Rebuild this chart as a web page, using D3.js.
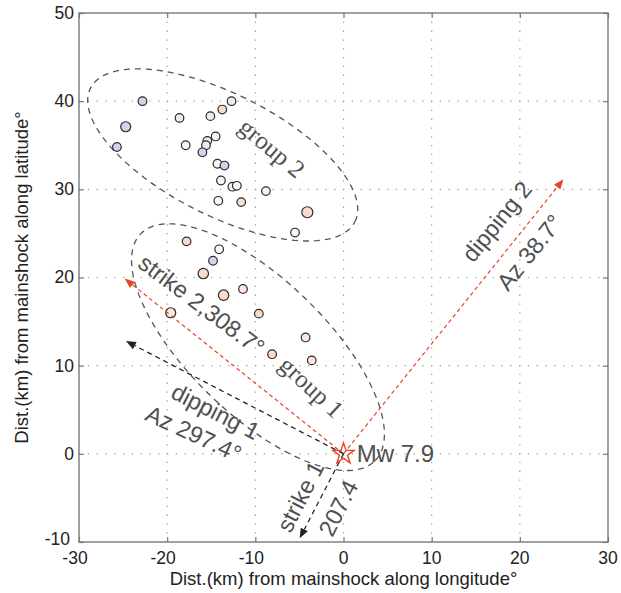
<!DOCTYPE html>
<html>
<head>
<meta charset="utf-8">
<script src="https://cdn.jsdelivr.net/npm/d3@7"></script>
<style>
  html, body { margin: 0; padding: 0; background: #fff; }
  svg { display: block; }
</style>
</head>
<body>
<svg id="chart" width="621" height="593"></svg>
<script>
// Aftershock epicentres relative to the mainshock (km east, km north)
const eqLon = [-22.8, -24.7, -25.7, -18.6, -17.9, -15.1, -13.75, -12.7, -14.5, -15.45, -15.6, -16.0,
               -14.3, -13.5, -13.9, -12.6, -12.1, -14.2, -11.6, -8.8, -4.1, -5.5,
               -17.8, -14.1, -14.8, -15.9, -11.4, -13.6, -19.6, -9.6, -4.3, -8.1, -3.6];
const eqLat = [40.0, 37.1, 34.8, 38.1, 35.0, 38.3, 39.05, 40.0, 36.0, 35.5, 35.0, 34.2,
               32.9, 32.7, 31.0, 30.3, 30.4, 28.7, 28.55, 29.8, 27.4, 25.1,
               24.1, 23.2, 21.9, 20.45, 18.7, 18.0, 16.0, 15.9, 13.2, 11.3, 10.6];
// fill class of each event: b lavender, l pale, w white, p peach, q pale peach
const eqShade = ["b","b","b","l","w","l","p","l","w","l","l","b",
                 "w","b","w","w","w","w","p","w","p","w",
                 "p","w","b","p","q","p","q","p","q","p","q"];
const eqSize = [4.3, 5.0, 4.3, 4.3, 4.3, 4.3, 4.3, 4.3, 4.3, 4.3, 4.3, 4.3,
                4.3, 4.3, 4.3, 4.3, 4.3, 4.3, 4.3, 4.3, 5.5, 4.3,
                4.3, 4.3, 4.3, 5.2, 4.3, 5.2, 5.0, 4.3, 4.3, 4.3, 4.3];

// Fault-plane directions from the epicentre: azimuth (deg from north) and drawn length (km)
const dirNames  = ["strike 2", "dipping 2", "dipping 1", "strike 1"];
const dirAz     = [308.7, 38.7, 297.4, 207.4];
const dirLength = [31.8, 39.9, 27.8, 10.8];
const dirColor  = ["red", "red", "black", "black"];

// Dashed ellipses around the two aftershock groups (centre, semi-axes in km, rotation in deg)
const groupNames = ["group 2", "group 1"];
const groupCx    = [-13.7, -9.7];
const groupCy    = [33.9, 12.1];
const groupA     = [16.8, 18.5];
const groupB     = [6.9, 7.7];
const groupRot   = [-26.8, -44];

// Annotation texts: position (km), rotation (deg)
const noteText  = ["group 2", "strike 2,308.7°", "group 1", "dipping 1", "Az 297.4°",
                   "dipping 2", "Az 38.7°", "strike 1", "207.4"];
const noteX     = [-8.1, -16.1, -3.6, -14.5, -17.0, 17.4, 21.1, -4.9, -0.6];
const noteY     = [34.7, 16.9, 7.6, 4.8, 2.3, 26.35, 22.85, -4.85, -6.15];
const noteAngle = [40, 37, 43, 27, 25, -51, -51, -63, -63];
const noteSerif = [true, false, true, false, false, false, false, false, false];

const mainshockLabel = "Mw 7.9";
const xTicks = [-30, -20, -10, 0, 10, 20, 30];
const yTicks = [-10, 0, 10, 20, 30, 40, 50];
const xTitle = "Dist.(km) from mainshock along longitude°";
const yTitle = "Dist.(km) from mainshock along latitude°";

const svg = d3.select("#chart");
const L = 79, R = 608, T = 13, B = 542;
const x = d3.scaleLinear().domain([-30, 30]).range([L, R]);
const y = d3.scaleLinear().domain([-10, 50]).range([B, T]);

const sans = "'Liberation Sans', Arial, Helvetica, sans-serif";
const serif = "'Liberation Serif', 'Times New Roman', serif";
const textGray = "#505050";
const redC = "#e8442a";

// dotted grid
const grid = svg.append("g");
grid.selectAll("line.gx").data(xTicks.slice(1, -1)).join("line")
  .attr("x1", d => x(d)).attr("x2", d => x(d)).attr("y1", T).attr("y2", B)
  .attr("stroke", "#9a9a9a").attr("stroke-width", 1.2).attr("stroke-dasharray", "1.3,7.5");
grid.selectAll("line.gy").data(yTicks.slice(1, -1)).join("line")
  .attr("y1", d => y(d)).attr("y2", d => y(d)).attr("x1", L).attr("x2", R)
  .attr("stroke", "#9a9a9a").attr("stroke-width", 1.2).attr("stroke-dasharray", "1.3,7.5");

// axes (ticks point inward, box on all sides)
const axisStyle = g => {
  g.select(".domain").remove();
  g.selectAll(".tick line").attr("stroke", "#777").attr("stroke-width", 1.2);
};
svg.append("g").attr("transform", `translate(0,${B})`)
  .call(d3.axisBottom(x).tickValues(xTicks).tickSizeInner(-5).tickSizeOuter(0).tickFormat(""))
  .call(axisStyle);
svg.append("g").attr("transform", `translate(0,${T})`)
  .call(d3.axisTop(x).tickValues(xTicks).tickSizeInner(-5).tickSizeOuter(0).tickFormat(""))
  .call(axisStyle);
svg.append("g").attr("transform", `translate(${L},0)`)
  .call(d3.axisLeft(y).tickValues(yTicks).tickSizeInner(-5).tickSizeOuter(0).tickFormat(""))
  .call(axisStyle);
svg.append("g").attr("transform", `translate(${R},0)`)
  .call(d3.axisRight(y).tickValues(yTicks).tickSizeInner(-5).tickSizeOuter(0).tickFormat(""))
  .call(axisStyle);
svg.append("rect").attr("x", L).attr("y", T).attr("width", R - L).attr("height", B - T)
  .attr("fill", "none").attr("stroke", "#7a7a7a").attr("stroke-width", 1.4);

// tick labels
svg.append("g").selectAll("text").data(xTicks).join("text")
  .attr("x", d => x(d) + (d < 0 ? -4 : 0)).attr("y", B + 22)
  .attr("text-anchor", "middle").attr("font-family", sans).attr("font-size", 17.5)
  .attr("fill", "#222").text(d => d);
svg.append("g").selectAll("text").data(yTicks).join("text")
  .attr("x", d => L - 5 - (d < 0 ? 4 : 0)).attr("y", d => y(d) - (d === -10 ? 3 : 0)).attr("dy", "0.34em")
  .attr("text-anchor", "end").attr("font-family", sans).attr("font-size", 17.5)
  .attr("fill", "#222").text(d => d);

// axis titles
svg.append("text").attr("x", (L + R) / 2).attr("y", 585)
  .attr("text-anchor", "middle").attr("font-family", sans).attr("font-size", 18.5)
  .attr("fill", "#222").text(xTitle);
svg.append("text").attr("transform", `translate(28,${(T + B) / 2}) rotate(-90)`)
  .attr("text-anchor", "middle").attr("font-family", sans).attr("font-size", 18.5)
  .attr("fill", "#222").text(yTitle);

// group ellipses
const ellipseLine = d3.line().x(p => x(p[0])).y(p => y(p[1])).curve(d3.curveLinearClosed);
groupNames.forEach((name, i) => {
  const phi = groupRot[i] * Math.PI / 180;
  const pts = d3.range(0, 360, 2).map(t => {
    const r = t * Math.PI / 180;
    const u = groupA[i] * Math.cos(r), v = groupB[i] * Math.sin(r);
    return [groupCx[i] + u * Math.cos(phi) - v * Math.sin(phi),
            groupCy[i] + u * Math.sin(phi) + v * Math.cos(phi)];
  });
  svg.append("path").attr("d", ellipseLine(pts))
    .attr("fill", "none").attr("stroke", "#555").attr("stroke-width", 1.3)
    .attr("stroke-dasharray", "6,5");
});

// aftershocks
const shadeFill = { b: "#d2d3ec", l: "#ececf6", w: "#f8f8fb", p: "#fbdccb", q: "#fde8de" };
svg.append("g").selectAll("circle").data(eqLon).join("circle")
  .attr("cx", (d, i) => x(d)).attr("cy", (d, i) => y(eqLat[i]))
  .attr("r", (d, i) => eqSize[i])
  .attr("fill", (d, i) => shadeFill[eqShade[i]])
  .attr("stroke", "#2b2b2b").attr("stroke-width", 1.2);

// fault-plane direction arrows
const arrows = svg.append("g");
dirNames.forEach((name, i) => {
  const az = dirAz[i] * Math.PI / 180;
  const tx = dirLength[i] * Math.sin(az), ty = dirLength[i] * Math.cos(az);
  const x0 = x(0), y0 = y(0), x1 = x(tx), y1 = y(ty);
  const col = dirColor[i] === "red" ? redC : "#222";
  const ang = Math.atan2(y1 - y0, x1 - x0);
  const hl = 10, hw = 4;
  const bx = x1 - hl * Math.cos(ang), by = y1 - hl * Math.sin(ang);
  arrows.append("line").attr("x1", x0).attr("y1", y0).attr("x2", bx).attr("y2", by)
    .attr("stroke", col).attr("stroke-width", dirColor[i] === "red" ? 1.2 : 1.3)
    .attr("stroke-dasharray", dirColor[i] === "red" ? "4,3" : "5,4");
  const px = -Math.sin(ang), py = Math.cos(ang);
  arrows.append("path")
    .attr("d", `M${x1},${y1}L${bx + hw * px},${by + hw * py}L${bx - hw * px},${by - hw * py}Z`)
    .attr("fill", col);
});

// mainshock star
const star = d3.symbol().type(d3.symbolStar).size(140);
svg.append("path").attr("d", star())
  .attr("transform", `translate(${x(0)},${y(0)})`)
  .attr("fill", "none").attr("stroke", redC).attr("stroke-width", 1.4);
svg.append("text").attr("x", x(1.5)).attr("y", y(0)).attr("dy", "0.36em")
  .attr("font-family", sans).attr("font-size", 24).attr("fill", textGray)
  .text(mainshockLabel);

// annotations
svg.append("g").selectAll("text").data(noteText).join("text")
  .attr("transform", (d, i) => `translate(${x(noteX[i])},${y(noteY[i])}) rotate(${noteAngle[i]})`)
  .attr("text-anchor", "middle").attr("dy", "0.35em")
  .attr("font-family", (d, i) => noteSerif[i] ? serif : sans)
  .attr("font-size", (d, i) => noteSerif[i] ? 25 : 23.5)
  .attr("fill", textGray).text(d => d);
</script>
</body>
</html>
